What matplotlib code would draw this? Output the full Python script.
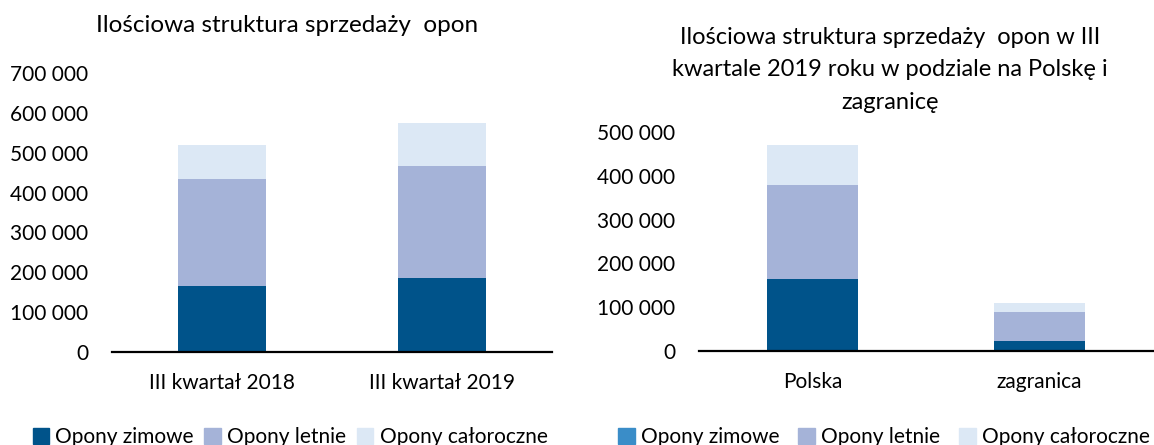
import matplotlib.pyplot as plt
import numpy as np
from matplotlib.patches import Patch
from matplotlib.ticker import FuncFormatter

plt.rcParams['font.family'] = ['Lato', 'DejaVu Sans']

series = ['Opony zimowe', 'Opony letnie', 'Opony całoroczne']
colors = ['#00538A', '#A5B3D8', '#DCE8F5']

cat_left = ['III kwartał 2018', 'III kwartał 2019']
left_zimowe = [165000, 185000]
left_letnie = [270000, 281000]
left_calo = [85000, 108000]

cat_right = ['Polska', 'zagranica']
right_zimowe = [164000, 23000]
right_letnie = [215000, 67000]
right_calo = [91000, 19000]

fmt = FuncFormatter(lambda v, p: f"{int(v):,}".replace(",", " "))

fig = plt.figure(figsize=(11.54, 4.45), dpi=100)
W, H = 1154, 445
ax1 = fig.add_axes([112 / W, 1 - 352 / H, 440 / W, (352 - 73) / H])
ax2 = fig.add_axes([699 / W, 1 - 351 / H, 454 / W, (351 - 132) / H])


def draw(ax, cats, vals, ymax, step):
    x = np.arange(len(cats))
    bottom = np.zeros(len(cats))
    for v, c in zip(vals, colors):
        ax.bar(x, v, 0.4, bottom=bottom, color=c, zorder=2)
        bottom += np.array(v)
    ax.set_xlim(-0.5, 1.5)
    ax.set_ylim(0, ymax)
    ax.set_yticks(np.arange(0, ymax + 1, step))
    ax.yaxis.set_major_formatter(fmt)
    ax.set_xticks(x)
    ax.set_xticklabels(cats)
    for s in ['top', 'right', 'left']:
        ax.spines[s].set_visible(False)
    ax.spines['bottom'].set_linewidth(1.6)
    ax.spines['bottom'].set_color('#000000')
    ax.tick_params(axis='both', length=0, labelsize=15)
    ax.tick_params(axis='x', pad=15)
    ax.tick_params(axis='y', pad=17)


draw(ax1, cat_left, [left_zimowe, left_letnie, left_calo], 700000, 100000)
draw(ax2, cat_right, [right_zimowe, right_letnie, right_calo], 500000, 100000)

fig.text(287 / W, 1 - 25 / H, 'Ilościowa struktura sprzedaży  opon',
         ha='center', va='center', fontsize=17.5)
fig.text(890 / W, 1 - 70 / H,
         'Ilościowa struktura sprzedaży  opon w III\nkwartale 2019 roku w podziale na Polskę i\nzagranicę',
         ha='center', va='center', fontsize=17, linespacing=1.7)

h1 = [Patch(color=c, label=s) for c, s in zip(colors, series)]
fig.legend(handles=h1, loc='center', bbox_to_anchor=(290 / W, 1 - 437 / H), ncol=3,
           frameon=False, fontsize=15, handlelength=0.8, handleheight=0.8,
           handletextpad=0.3, columnspacing=0.5)
colors_r = ['#3A8DC8', colors[1], colors[2]]
h2 = [Patch(color=c, label=s) for c, s in zip(colors_r, series)]
fig.legend(handles=h2, loc='center', bbox_to_anchor=(884 / W, 1 - 437 / H), ncol=3,
           frameon=False, fontsize=15, handlelength=0.8, handleheight=0.8,
           handletextpad=0.3, columnspacing=0.9)

fig.savefig('out.png', dpi=100)
